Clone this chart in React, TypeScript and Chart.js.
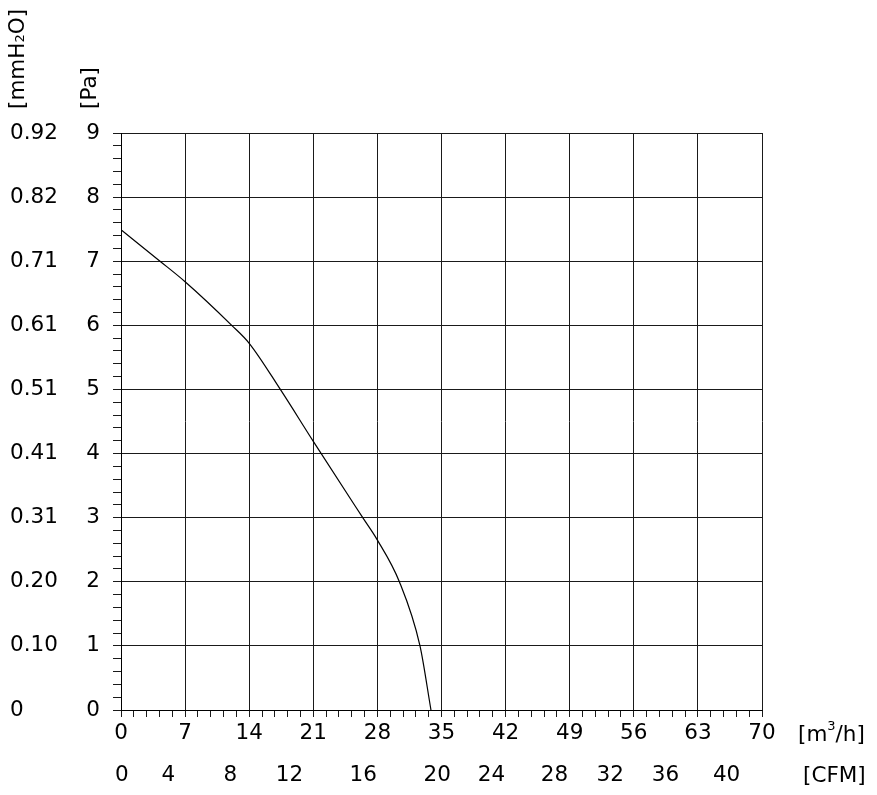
import React, { useEffect, useRef } from "react";
import { Chart, registerables } from "chart.js";

Chart.register(...registerables);

// Flow [m3/h] and static pressure [Pa]
const flowM3h = [0, 4.26, 7, 12.09, 14, 17.4, 21, 26.4, 28, 30.4, 32.65, 33.85];
const pressurePa = [7.49, 7.0, 6.68, 6.0, 5.72, 5.0, 4.19, 3.0, 2.65, 2.0, 1.0, 0];

const paTicks = [0, 1, 2, 3, 4, 5, 6, 7, 8, 9];
const mmH2OLabels = ["0", "0.10", "0.20", "0.31", "0.41", "0.51", "0.61", "0.71", "0.82", "0.92"];
const m3hTicks = [0, 7, 14, 21, 28, 35, 42, 49, 56, 63, 70];
const cfmLabels = ["0", "4", "8", "12", "16", "20", "24", "28", "32", "36", "40"];
// where the CFM labels sit, in m3/h units (as printed on the original)
const cfmAt = [0.1, 5.17, 11.94, 18.4, 26.45, 34.54, 40.46, 47.34, 53.42, 59.46, 66.13];

const FONT = "'DejaVu Sans', Verdana, sans-serif";
const FS = 21.5;

const isMult = (v: number, m: number) => Math.abs(v / m - Math.round(v / m)) < 1e-6;

const titlesPlugin = {
  id: "titles",
  afterDraw(chart: any) {
    const { ctx, chartArea } = chart;
    ctx.save();
    ctx.fillStyle = "#000";
    ctx.textBaseline = "middle";
    const big = `${FS}px ${FONT}`;
    const small = `${Math.round(FS * 0.62)}px ${FONT}`;
    const drawRot = (x: number, yBottom: number, parts: { t: string; f: string; dy?: number }[]) => {
      ctx.save();
      ctx.translate(x, yBottom);
      ctx.rotate(-Math.PI / 2);
      ctx.textAlign = "left";
      let cx = 0;
      for (const p of parts) {
        ctx.font = p.f;
        ctx.fillText(p.t, cx, p.dy || 0);
        cx += ctx.measureText(p.t).width;
      }
      ctx.restore();
    };
    drawRot(chartArea.left - 31, chartArea.top - 24, [{ t: "[Pa]", f: big }]);
    drawRot(chartArea.left - 103, chartArea.top - 24, [
      { t: "[mmH", f: big },
      { t: "2", f: small, dy: 3 },
      { t: "O]", f: big },
    ]);
    const drawH = (x: number, y: number, parts: { t: string; f: string; dy?: number }[]) => {
      ctx.textAlign = "left";
      let cx = x;
      for (const p of parts) {
        ctx.font = p.f;
        ctx.fillText(p.t, cx, y + (p.dy || 0));
        cx += ctx.measureText(p.t).width;
      }
    };
    drawH(chartArea.right + 36, chartArea.bottom + 25, [
      { t: "[m", f: big },
      { t: "3", f: small, dy: -8 },
      { t: "/h]", f: big },
    ]);
    drawH(chartArea.right + 41, chartArea.bottom + 66, [{ t: "[CFM]", f: big }]);
    ctx.restore();
  },
};

export default function App() {
  const ref = useRef<HTMLCanvasElement>(null);
  useEffect(() => {
    const canvas = ref.current!;
    const data = flowM3h.map((x, i) => ({ x, y: pressurePa[i] }));
    const chart = new Chart(canvas, {
      type: "line",
      data: {
        datasets: [
          {
            data,
            borderColor: "#000",
            borderWidth: 1.2,
            pointRadius: 0,
            cubicInterpolationMode: "monotone",
            fill: false,
          },
        ],
      },
      options: {
        animation: false,
        responsive: false,
        devicePixelRatio: 1,
        layout: { padding: { left: 10, top: 133, right: 115, bottom: 0 } },
        plugins: { legend: { display: false }, tooltip: { enabled: false } },
        scales: {
          x: {
            type: "linear",
            position: "bottom",
            weight: 0,
            min: 0,
            max: 70,
            afterBuildTicks: (s: any) => {
              const t = [];
              for (let i = 0; i <= 50; i++) t.push({ value: +(i * 1.4).toFixed(4) });
              s.ticks = t;
            },
            afterFit: (s: any) => {
              s.height = 42;
            },
            grid: {
              color: (c: any) => (isMult(c.tick.value, 7) ? "#1a1a1a" : "rgba(0,0,0,0)"),
              tickColor: "#1a1a1a",
              tickLength: 7,
              lineWidth: 1,
            },
            border: { color: "#000", width: 1 },
            ticks: {
              autoSkip: false,
              maxRotation: 0,
              padding: 4,
              color: "#000",
              font: { family: FONT, size: FS },
              callback: (v: any) => (m3hTicks.some((m) => Math.abs(m - v) < 1e-6) ? String(Math.round(v)) : ""),
            },
          },
          x2: {
            type: "linear",
            position: "bottom",
            weight: 1,
            min: 0,
            max: 70,
            afterBuildTicks: (s: any) => {
              s.ticks = cfmAt.map((v) => ({ value: v }));
            },
            afterFit: (s: any) => {
              s.height = 43;
            },
            grid: { display: false, drawTicks: false },
            border: { display: false },
            ticks: {
              autoSkip: false,
              maxRotation: 0,
              padding: 11,
              color: "#000",
              font: { family: FONT, size: FS },
              callback: (_v: any, i: number) => cfmLabels[i],
            },
          },
          y: {
            type: "linear",
            position: "left",
            weight: 0,
            min: 0,
            max: 9,
            afterBuildTicks: (s: any) => {
              const t = [];
              for (let i = 0; i <= 45; i++) t.push({ value: +(i * 0.2).toFixed(4) });
              s.ticks = t;
            },
            afterFit: (s: any) => {
              s.width = 40;
            },
            grid: {
              color: (c: any) => (isMult(c.tick.value, 1) ? "#1a1a1a" : "rgba(0,0,0,0)"),
              tickColor: "#1a1a1a",
              tickLength: 8,
              lineWidth: 1,
            },
            border: { color: "#000", width: 1 },
            ticks: {
              autoSkip: false,
              padding: 13,
              color: "#000",
              font: { family: FONT, size: FS },
              callback: (v: any) => (paTicks.some((m) => Math.abs(m - v) < 1e-6) ? String(Math.round(v)) : ""),
            },
          },
          y2: {
            type: "linear",
            position: "left",
            weight: 1,
            min: 0,
            max: 9,
            afterBuildTicks: (s: any) => {
              s.ticks = paTicks.map((v) => ({ value: v }));
            },
            afterFit: (s: any) => {
              s.width = 71;
            },
            grid: { display: false, drawTicks: false },
            border: { display: false },
            ticks: {
              autoSkip: false,
              crossAlign: "far",
              padding: 0,
              color: "#000",
              font: { family: FONT, size: FS },
              callback: (_v: any, i: number) => mmH2OLabels[i],
            },
          },
        },
      },
      plugins: [titlesPlugin],
    } as any);
    return () => chart.destroy();
  }, []);
  return (
    <div style={{ position: "fixed", left: 0, top: 0, width: 877, height: 795, background: "#fff" }}>
      <canvas ref={ref} width={877} height={795} style={{ width: 877, height: 795 }} />
    </div>
  );
}
